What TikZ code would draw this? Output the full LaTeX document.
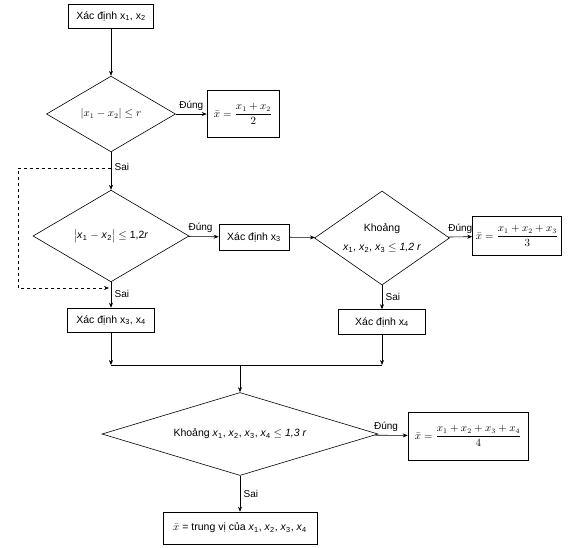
\documentclass[tikz,border=0pt]{standalone}
\usepackage{amsmath,amssymb}
\usepackage{fontspec}
\setmainfont{Liberation Sans}
\usetikzlibrary{shapes.geometric,arrows.meta}

\newcommand{\ux}[1]{x$_{\text{#1}}$}
\newcommand{\vx}[1]{\textit{x}$_{\text{#1}}$}

\begin{document}
\begin{tikzpicture}[x=1pt, y=-1pt, line width=0.6pt, >={Stealth[length=5pt,width=4pt]},
    every node/.style={font=\fontsize{10.5}{12}\selectfont},
    procbox/.style={draw, rectangle, minimum height=25pt, inner sep=3pt},
    decision/.style={draw, diamond, inner sep=1pt},
    lbl/.style={font=\fontsize{10}{12}\selectfont}]
    \useasboundingbox (0,0) rectangle (575,548);

    % Start: first two measurements
    \node[procbox, minimum width=85pt, minimum height=24pt] (b12) at (111,16) {Xác định \ux1, \ux2};

    % First test
    \node[decision, minimum width=129pt, minimum height=75pt] (d1) at (111,114) {$\left|x_1-x_2\right|\le r$};
    \node[procbox, minimum width=72pt, minimum height=47pt] (r2) at (243,114) {$\bar{x}=\dfrac{x_1+x_2}{2}$};

    % Second test
    \node[decision, minimum width=156pt, minimum height=73pt] (d2) at (111,236) {$\bigl|$\vx1 $-$ \vx2$\bigr|\le$ 1,2\textit{r}};
    \node[procbox, minimum width=70pt, minimum height=26pt] (b3) at (254,237) {Xác định \ux3};

    % Third test
    \node[decision, minimum width=135pt, minimum height=94pt, align=center, shape aspect=1.5] (d3) at (382,238)
        {Khoảng\\[7pt]\vx1, \vx2, \vx3 $\le$ \textit{1,2 r}};
    \node[procbox, minimum width=89pt, minimum height=39pt] (r3) at (517,236) {$\bar{x}=\dfrac{x_1+x_2+x_3}{3}$};
    \node[procbox, minimum width=87pt] (b4) at (382,322) {Xác định \ux4};
    \node[procbox, minimum width=87pt, minimum height=24pt] (b34) at (111,320) {Xác định \ux3, \ux4};

    % Fourth test
    \node[decision, minimum width=276pt, minimum height=83pt, shape aspect=3] (d4) at (240,434)
        {Khoảng \vx1, \vx2, \vx3, \vx4 $\le$ \textit{1,3 r}};
    \node[procbox, minimum width=120pt, minimum height=48pt] (r4) at (468,436) {$\bar{x}=\dfrac{x_1+x_2+x_3+x_4}{4}$};
    \node[procbox, minimum width=154pt, minimum height=32pt] (med) at (240,528) {$\bar{x}$ = trung vị của \vx1, \vx2, \vx3, \vx4};

    % Connectors
    \draw[->] (b12) -- (d1);
    \draw[->] (d1) -- node[lbl, above] {Đúng} (r2);
    \draw[->] (d1) -- node[lbl, right, pos=0.38] {Sai} (d2);
    \draw[->] (d2) -- node[lbl, above, pos=0.4] {Đúng} (b3);
    \draw[->] (d2) -- node[lbl, right, pos=0.45] {Sai} (b34);
    \draw[->] (b3) -- (d3);
    \draw[->] (d3) -- node[lbl, above] {Đúng} (r3);
    \draw[->] (d3) -- node[lbl, right] {Sai} (b4);

    % Dashed bypass
    \coordinate (s1) at (111,168);
    \coordinate (s2) at (109,288);
    \draw[dashed, ->] (s1) -- (18,168) |- (s2);

    % Merge line
    \coordinate (m) at (240,365);
    \draw[->] (b34) -- (b34 |- m);
    \draw[->] (b4) -- (b4 |- m);
    \draw (b34 |- m) -- (b4 |- m);
    \draw[->] (m) -- (d4);
    \draw[->] (d4) -- node[lbl, above, pos=0.35] {Đúng} (r4);
    \draw[->] (d4) -- node[lbl, right] {Sai} (med);
\end{tikzpicture}
\end{document}
